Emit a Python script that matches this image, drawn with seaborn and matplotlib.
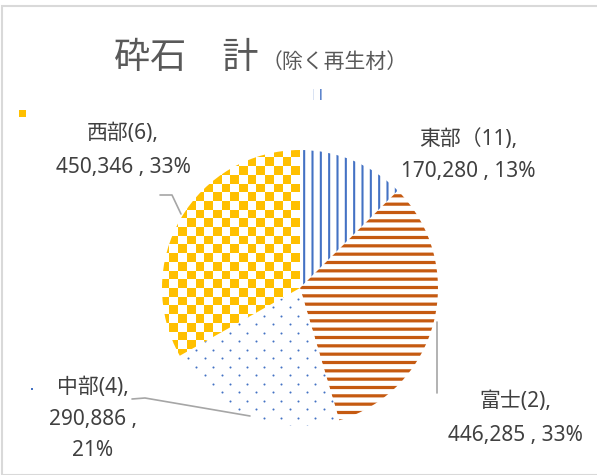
import numpy as np
import matplotlib
matplotlib.use("Agg")
import matplotlib.pyplot as plt
import seaborn as sns
from matplotlib.patches import Rectangle

sns.set_theme(style="white")
plt.rcParams['font.family'] = ['Noto Sans', 'Noto Sans CJK JP', 'DejaVu Sans']

# ---- data ----
regions = ["東部", "富士", "中部", "西部"]
counts = ["（11)", "(2)", "(4)", "(6)"]
values = [170280, 446285, 290886, 450346]
title_main = "砕石　計"
title_sub = "（除く再生材）"

W, H = 597, 475
fig = plt.figure(figsize=(W / 100, H / 100), dpi=100)
ax = fig.add_axes([0, 0, 1, 1])

def Y(y):
    return H - y

cx, cy, R = 300, 288, 138
blue = "#4472C4"
orange = "#C55A11"
yellow = "#FFC000"
txt = "#404040"

wedges, _ = ax.pie(values, startangle=90, counterclock=False,
                   center=(cx, Y(cy)), radius=R, frame=True,
                   wedgeprops=dict(linewidth=0))
ax.set_xlim(0, W)
ax.set_ylim(0, H)
ax.set_aspect("equal")
ax.axis("off")

styles = [
    dict(hatch="||", edge=blue, lw=1.5),
    dict(hatch="--", edge=orange, lw=2.3),
    None,
    None,
]
for w, st in zip(wedges, styles):
    w.set_facecolor("white")
    if st is None:
        continue
    w.set_edgecolor(st["edge"])
    w.set_hatch(st["hatch"])
    w.set_linewidth(0)
    if hasattr(w, "set_hatch_linewidth"):
        w.set_hatch_linewidth(st["lw"])

# dotted pattern for 中部
dx, dy = 17.0, 8.5
pts_x, pts_y = [], []
for r, yy in enumerate(np.arange(Y(cy) - R - dy, Y(cy) + R + dy, dy)):
    off = 0 if r % 2 == 0 else dx / 2
    for xx in np.arange(cx - R - dx + off, cx + R + dx, dx):
        pts_x.append(xx)
        pts_y.append(yy)
sc = ax.scatter(pts_x, pts_y, s=2.2, color=blue, linewidths=0, zorder=2)
sc.set_clip_path(wedges[2])

# checkerboard for 西部
cell = 8.7
n = int(np.ceil(2 * R / cell)) + 2
ii, jj = np.meshgrid(np.arange(n), np.arange(n))
board = ((ii + jj) % 2).astype(float)
x0 = cx - cell * (n // 2)
y0 = Y(cy) - cell * (n // 2)
im = ax.imshow(board, cmap=matplotlib.colors.ListedColormap([yellow, "white"]),
               extent=(x0, x0 + n * cell, y0, y0 + n * cell),
               interpolation="nearest", origin="lower", zorder=2)
im.set_clip_path(wedges[3])
ax.set_xlim(0, W)
ax.set_ylim(0, H)

# title
ax.text(259, Y(58), title_main, fontsize=26, color="#595959",
        ha="right", va="center", family=['Noto Sans CJK JP'])
ax.text(262, Y(62), title_sub, fontsize=15, color="#595959",
        ha="left", va="center", family=['Noto Sans CJK JP'])

# labels
pct = [v / sum(values) * 100 for v in values]
lab_pos = {
    0: (468, [140, 172]),
    1: (515, [402, 435]),
    2: (93, [388, 420, 451]),
    3: (123, [133, 168]),
}
for i in range(4):
    vstr = f"{values[i]:,}"
    p = f"{pct[i]:.0f}%"
    if i == 2:
        lines = [regions[i] + counts[i] + ",", vstr + " ,", p]
    else:
        lines = [regions[i] + counts[i] + ",", vstr + " , " + p]
    x, ys = lab_pos[i]
    for s, y in zip(lines, ys):
        ax.text(x, Y(y), s, fontsize=15, color=txt, ha="center", va="center")

# leader lines
lc = "#A6A6A6"
ax.plot([160, 172, 181], [Y(195), Y(195), Y(214)], color=lc, lw=1.2)
ax.plot([132, 145, 250], [Y(399), Y(398), Y(416)], color=lc, lw=1.2)
ax.plot([437, 437], [Y(322), Y(393)], color=lc, lw=1.2)

# small legend keys
ax.add_patch(Rectangle((19, Y(117)), 7, 7, facecolor=yellow, lw=0))
ax.add_patch(Rectangle((313, Y(100)), 9, 11, facecolor="white", edgecolor=blue,
                       hatch="||", lw=0))
ax.add_patch(Rectangle((30.5, Y(389.5)), 2, 2, facecolor=blue, lw=0))

# frame
fig.patches.append(Rectangle((2 / W, 0), 1.1, (H - 6) / H, transform=fig.transFigure,
                             facecolor="none", edgecolor="#D9D9D9", lw=1.5))

fig.savefig("out.png", dpi=100)
